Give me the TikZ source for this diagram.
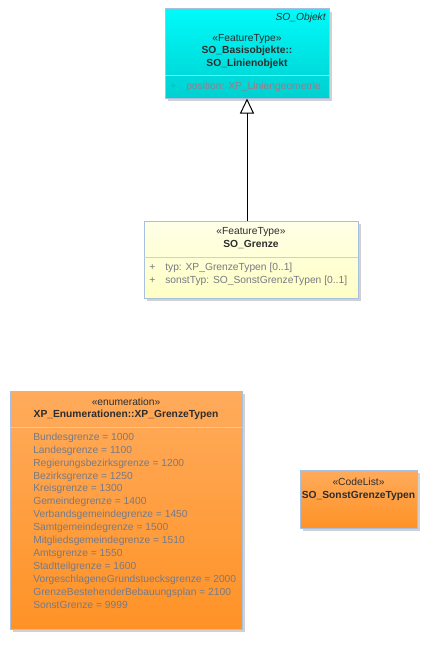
\documentclass[tikz,border=0pt]{standalone}
\usepackage{fontspec}
\setmainfont{Liberation Sans}
\usetikzlibrary{arrows.meta}
\usetikzlibrary{shadows}

\definecolor{boxline}{RGB}{168,192,224}
\definecolor{titletext}{RGB}{45,45,45}
\definecolor{attrtext}{RGB}{120,122,132}
\definecolor{cyanattr}{RGB}{150,125,140}

\tikzset{
  umlbox/.style={draw=boxline, line width=0.75pt, inner sep=0pt,
    general shadow={fill=black!18, shadow xshift=2.25pt, shadow yshift=-2.25pt}},
  sepline/.style={draw=boxline!70!white, line width=0.75pt},
  title/.style={inner sep=0.75pt, text=titletext, font=\fontsize{7.7}{9.75}\selectfont},
  attr/.style={inner sep=0.75pt, anchor=west, text=attrtext, font=\fontsize{7.7}{9.75}\selectfont},
}

\begin{document}
\begin{tikzpicture}[x=0.75pt,y=0.75pt,yscale=-1,xscale=1]
\useasboundingbox (0,0) rectangle (430,660);

%Shape: Rectangle SO_Objekt
\node (objekt) [umlbox, top color={rgb,255:red,0;green,250;blue,250}, bottom color={rgb,255:red,0;green,208;blue,208}, minimum width=123pt, minimum height=66.75pt] at (247,53.5) {};
\draw [sepline] (165,76) -- (329,76);
% Text Node
\node (objname) [title, anchor=east, font=\fontsize{7.7}{9.75}\selectfont\itshape] at (327,18) {SO\_Objekt};
\node (objstereo) [title] at (247,39) {«FeatureType»};
\node (objtitle1) [title, font=\fontsize{7.7}{9.75}\selectfont\bfseries] at (247,51) {SO\_Basisobjekte::};
\node (objtitle2) [title, font=\fontsize{7.7}{9.75}\selectfont\bfseries] at (247,63.5) {SO\_Linienobjekt};
\node (objplus) [attr, text=cyanattr] at (169,86.5) {+};
\node (objattr) [attr, text=cyanattr] at (185,86.5) {position: XP\_Liniengeometrie};

%Shape: Rectangle SO_Grenze
\node (grenze) [umlbox, top color={rgb,255:red,255;green,255;blue,232}, bottom color={rgb,255:red,255;green,255;blue,196}, minimum width=160.5pt, minimum height=57.75pt] at (251,259.5) {};
\draw [sepline] (144,257) -- (358,257);
% Text Node
\node (grstereo) [title] at (251,232) {«FeatureType»};
\node (grtitle) [title, font=\fontsize{7.7}{9.75}\selectfont\bfseries] at (251,245) {SO\_Grenze};
\node (grplus1) [attr] at (148,267.5) {+};
\node (grattr1) [attr] at (164,267.5) {typ: XP\_GrenzeTypen [0..1]};
\node (grplus2) [attr] at (148,281) {+};
\node (grattr2) [attr] at (164,281) {sonstTyp: SO\_SonstGrenzeTypen [0..1]};

%Generalisation
\draw [-{Triangle[open, length=11.25pt, width=10.5pt]}, line width=0.75pt] (grenze.north -| objekt.south) -- (objekt.south);

%Shape: Rectangle XP_GrenzeTypen
\node (enum) [umlbox, top color={rgb,255:red,255;green,171;blue,92}, bottom color={rgb,255:red,255;green,146;blue,38}, minimum width=174pt, minimum height=178.5pt] at (126,510) {};
\draw [sepline] (10,427) -- (242,427);
% Text Node
\node (enstereo) [title] at (126,402) {«enumeration»};
\node (entitle) [title, font=\fontsize{7.7}{9.75}\selectfont\bfseries] at (126,415) {XP\_Enumerationen::XP\_GrenzeTypen};
\foreach \lit [count=\i from 0] in {Bundesgrenze = 1000, Landesgrenze = 1100,
    Regierungsbezirksgrenze = 1200, Bezirksgrenze = 1250, Kreisgrenze = 1300,
    Gemeindegrenze = 1400, Verbandsgemeindegrenze = 1450, Samtgemeindegrenze = 1500,
    Mitgliedsgemeindegrenze = 1510, Amtsgrenze = 1550, Stadtteilgrenze = 1600,
    VorgeschlageneGrundstuecksgrenze = 2000, GrenzeBestehenderBebauungsplan = 2100,
    SonstGrenze = 9999}
  \node (lit\i) [attr] at (32,437.7+12.9*\i) {\lit};

%Shape: Rectangle SO_SonstGrenzeTypen
\node (codelist) [umlbox, top color={rgb,255:red,255;green,171;blue,92}, bottom color={rgb,255:red,255;green,146;blue,38}, minimum width=87.75pt, minimum height=43.5pt] at (358.5,499) {};
% Text Node
\node (clstereo) [title] at (358.5,482) {«CodeList»};
\node (cltitle) [title, font=\fontsize{7.7}{9.75}\selectfont\bfseries] at (358.5,496) {SO\_SonstGrenzeTypen};
\end{tikzpicture}
\end{document}
